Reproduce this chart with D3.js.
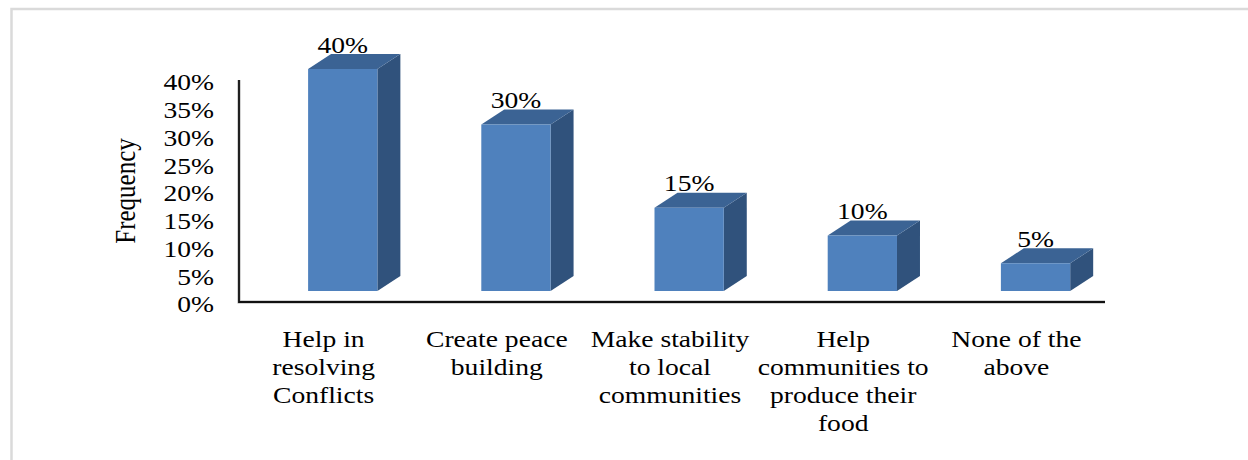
<!DOCTYPE html>
<html>
<head>
<meta charset="utf-8">
<script src="https://cdn.jsdelivr.net/npm/d3@7"></script>
<style>
  body { margin: 0; background: white; }
  text { font-family: "Liberation Serif", "Times New Roman", serif; fill: #000; }
</style>
</head>
<body>
<div class="plot"></div>
<script>
// Chart data
var categories = ["Help in resolving Conflicts", "Create peace building", "Make stability to local communities",
                  "Help communities to produce their food", "None of the above"];
var categoryLines = [["Help in", "resolving", "Conflicts"],
                     ["Create peace", "building"],
                     ["Make stability", "to local", "communities"],
                     ["Help", "communities to", "produce their", "food"],
                     ["None of the", "above"]];
var values = [0.40, 0.30, 0.15, 0.10, 0.05];
var tickValues = [0, 0.05, 0.10, 0.15, 0.20, 0.25, 0.30, 0.35, 0.40];
var yLabel = "Frequency";

// Layout
var outerWidth = 1248, outerHeight = 460;
var axisLeft = 239, axisRight = 1105, axisTop = 80, axisBottom = 302;
var stretch = 1.2;          // glyphs in the source are stretched horizontally
var depth = {x: 23, y: -15}; // 3D depth of the columns
var frontShift = -11;        // front face sits above the floor line

var svg = d3.select(".plot")
    .append("svg")
    .attr("width", outerWidth)
    .attr("height", outerHeight);

svg.append("rect")
    .attr("width", "100%")
    .attr("height", "100%")
    .attr("fill", "white");

// light frame of the chart area
svg.append("rect")
    .attr("x", 11.5)
    .attr("y", 9)
    .attr("width", outerWidth + 20)
    .attr("height", outerHeight + 20)
    .attr("fill", "none")
    .attr("stroke", "#dadada")
    .attr("stroke-width", 2.5);

// Scales
var xScale = d3.scaleBand().domain(categories).range([axisLeft, axisRight]);
var yScale = d3.scaleLinear().domain([0, 0.4]).range([axisBottom, axisTop]);
var barWidth = xScale.step() * 0.4;
var barOffset = -17.5;

// Y axis tick labels
var yAxis = d3.axisLeft(yScale)
    .tickValues(tickValues)
    .tickFormat(d3.format(".0%"))
    .tickSize(0)
    .tickPadding(25);

var yG = svg.append("g")
    .attr("transform", "translate(" + axisLeft + ",0)")
    .call(yAxis);
yG.select(".domain").remove();
yG.selectAll("text")
    .attr("font-size", 23)
    .attr("font-family", "Liberation Serif")
    .attr("fill", "#000")
    .attr("x", -25 / stretch)
    .attr("y", 2.5)
    .attr("transform", "scale(" + stretch + ",1)");

// Axis lines
svg.append("path")
    .attr("d", "M" + axisLeft + "," + axisTop + "V" + axisBottom + "H" + axisRight)
    .attr("fill", "none")
    .attr("stroke", "#555")
    .attr("stroke-width", 3)
    .attr("opacity", 0.5);
svg.append("path")
    .attr("d", "M" + axisLeft + "," + axisTop + "V" + axisBottom + "H" + axisRight)
    .attr("fill", "none")
    .attr("stroke", "#111")
    .attr("stroke-width", 1.8);

// Y axis title
svg.append("text")
    .attr("font-size", 25)
    .attr("text-anchor", "middle")
    .attr("transform", "translate(135,191) scale(" + stretch + ",1) rotate(-90)")
    .text(yLabel);

// Columns
var bars = svg.selectAll(".bar")
    .data(values)
    .enter().append("g")
    .attr("class", "bar");

function x0(d, i) { return xScale(categories[i]) + xScale.bandwidth() / 2 + barOffset; }

// side face
bars.append("path")
    .attr("fill", "#30527c")
    .attr("d", function (d, i) {
        var l = x0(d, i) + barWidth, t = yScale(d) + frontShift, b = yScale(0) + frontShift;
        return "M" + l + "," + t + "L" + (l + depth.x) + "," + (t + depth.y) +
               "L" + (l + depth.x) + "," + (b + depth.y) + "L" + l + "," + b + "Z";
    });

// top face
bars.append("path")
    .attr("fill", "#3b6394")
    .attr("d", function (d, i) {
        var l = x0(d, i), t = yScale(d) + frontShift;
        return "M" + l + "," + t + "L" + (l + depth.x) + "," + (t + depth.y) +
               "L" + (l + barWidth + depth.x) + "," + (t + depth.y) + "L" + (l + barWidth) + "," + t + "Z";
    });

// front face
bars.append("rect")
    .attr("fill", "#4f81bd")
    .attr("x", x0)
    .attr("y", d => yScale(d) + frontShift)
    .attr("width", barWidth)
    .attr("height", d => yScale(0) - yScale(d));

// Value labels
bars.append("text")
    .attr("font-size", 23)
    .attr("text-anchor", "middle")
    .attr("transform", function (d, i) {
        return "translate(" + (x0(d, i) + barWidth / 2) + "," + (yScale(d) + frontShift + depth.y - 1.5) +
               ") scale(" + stretch + ",1)";
    })
    .text(d => d3.format(".0%")(d));

// Category labels
var catG = svg.selectAll(".cat")
    .data(categoryLines)
    .enter().append("text")
    .attr("class", "cat")
    .attr("font-size", 23)
    .attr("text-anchor", "middle")
    .attr("transform", function (d, i) {
        return "translate(" + (xScale(categories[i]) + xScale.bandwidth() / 2 - 2) + ",347) scale(" + stretch + ",1)";
    });
catG.selectAll("tspan")
    .data(d => d)
    .enter().append("tspan")
    .attr("x", 0)
    .attr("y", (d, j) => j * 28)
    .text(d => d);
</script>
</body>
</html>
